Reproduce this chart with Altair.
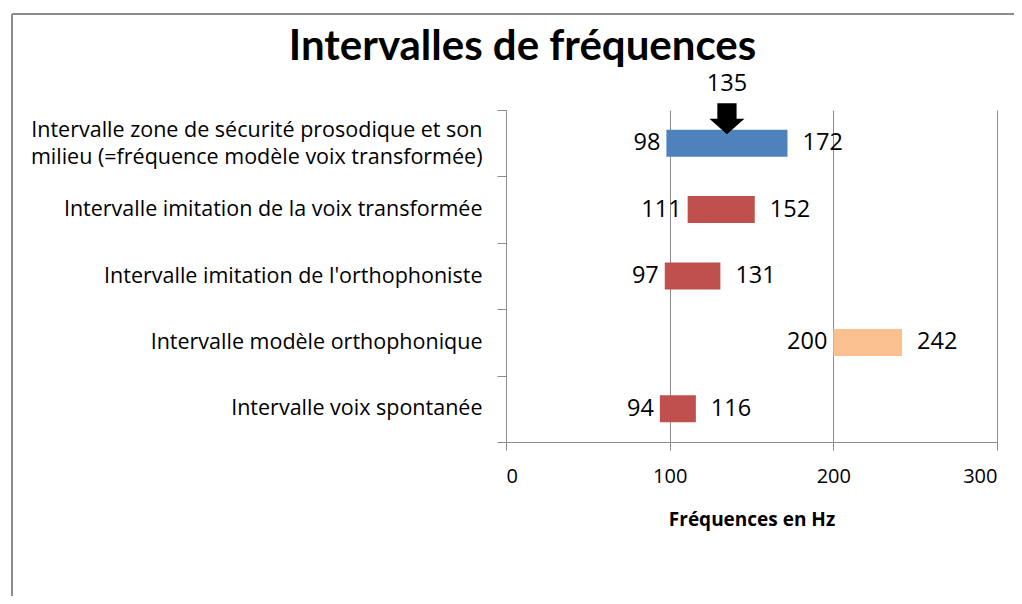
import json
import altair as alt
import pandas as pd

# ---- data ----
categories = [
    "Intervalle zone de sécurité prosodique et son milieu (=fréquence  modèle voix transformée)",
    "Intervalle imitation de la voix transformée",
    "Intervalle imitation de l'orthophoniste",
    "Intervalle modèle orthophonique",
    "Intervalle voix spontanée",
]
first_label_lines = [
    "Intervalle zone de sécurité prosodique et son",
    "milieu (=fréquence  modèle voix transformée)",
]
low = [98, 111, 97, 200, 94]
high = [172, 152, 131, 242, 116]
bar_colors = ["#4F81BD", "#C0504D", "#C0504D", "#FAC090", "#C0504D"]
marker_value = [135]
x_ticks = [0, 100, 200, 300]

df = pd.DataFrame({"cat": categories, "low": low, "high": high, "color": bar_colors})
marker = pd.DataFrame({"cat": [categories[0]], "value": marker_value})

FONT = "Open Sans"
TFONT = "Lato"
GRAY = "#8C8C8C"

is_first = f"datum.value == {json.dumps(categories[0])}"
label_expr = f"{is_first} ? {json.dumps(first_label_lines)} : datum.label"

yscale = alt.Scale(domain=categories, paddingInner=0, paddingOuter=0)
yaxis = alt.Axis(
    title=None, labelExpr=label_expr, tickBand="extent", tickSize=9,
    tickColor=GRAY, domainColor=GRAY, labelFontSize=21.5, labelFont=FONT,
    labelColor="#000000", labelPadding=15, labelLimit=700, labelLineHeight=27,
    labelOffset={"condition": {"test": is_first, "value": -13}, "value": 0},
    grid=False,
)
xscale = alt.Scale(domain=[0, 300], nice=False)
xaxis = alt.Axis(
    title="Fréquences en Hz", values=x_ticks, grid=True, gridColor=GRAY,
    tickSize=8, tickColor=GRAY, domainColor=GRAY, labelFontSize=20,
    labelFont=FONT, labelColor="#000000", labelPadding=16, titleFont=FONT,
    titleFontSize=19, titleFontWeight="bold", titleColor="#000000",
    titlePadding=24,
)

base = alt.Chart(df)

bars = base.mark_bar(size=27).encode(
    y=alt.Y("cat:N", scale=yscale, axis=yaxis, sort=categories),
    x=alt.X("low:Q", scale=xscale, axis=xaxis),
    x2="high:Q",
    color=alt.Color("color:N", scale=None),
)

low_labels = base.mark_text(align="right", baseline="middle", dx=-6, fontSize=23.5, font=FONT, color="#000000").encode(
    y=alt.Y("cat:N", scale=yscale, axis=yaxis, sort=categories),
    x=alt.X("low:Q", scale=xscale, axis=xaxis),
    text="low:Q",
)
high_labels = base.mark_text(align="left", baseline="middle", dx=15, fontSize=23.5, font=FONT, color="#000000").encode(
    y=alt.Y("cat:N", scale=yscale, axis=yaxis, sort=categories),
    x=alt.X("high:Q", scale=xscale, axis=xaxis),
    text="high:Q",
)

arrow_path = "M-0.55,-0.886 L0.55,-0.886 L0.55,0 L1,0 L0,0.886 L-1,0 L-0.55,0 Z"
arrow = alt.Chart(marker).mark_point(
    shape=arrow_path, filled=True, color="#000000", size=1225, opacity=1,
    strokeWidth=0, yOffset=-24.5,
).encode(
    y=alt.Y("cat:N", scale=yscale, axis=yaxis, sort=categories),
    x=alt.X("value:Q", scale=xscale, axis=xaxis),
)
arrow_label = alt.Chart(marker).mark_text(
    baseline="middle", align="center", dy=-59, fontSize=23.5, font=FONT, color="#000000"
).encode(
    y=alt.Y("cat:N", scale=yscale, axis=yaxis, sort=categories),
    x=alt.X("value:Q", scale=xscale, axis=xaxis),
    text="value:Q",
)

frame_data = alt.Data(values=[{"k": 1}])
frame_top = alt.Chart(frame_data).mark_rule(color=GRAY, strokeWidth=2).encode(
    x=alt.value(-494), x2=alt.value(700), y=alt.value(-96)
)
frame_left = alt.Chart(frame_data).mark_rule(color=GRAY, strokeWidth=2).encode(
    x=alt.value(-494), y=alt.value(-96), y2=alt.value(700)
)

chart = alt.layer(bars, low_labels, high_labels, arrow, arrow_label, frame_top, frame_left).properties(
    width=491,
    height=332,
    autosize=alt.AutoSizeParams(type="none"),
    padding={"left": 498, "top": 102, "right": 17, "bottom": 154},
    background="white",
    title=alt.TitleParams(
        "Intervalles de fréquences", font=TFONT, fontSize=42, fontWeight="bold",
        color="#000000", anchor="middle", dx=-229, offset=0, dy=56,
    ),
).configure_view(stroke=None)

chart.save("out.html", embed_options={"renderer": "svg", "actions": False})
